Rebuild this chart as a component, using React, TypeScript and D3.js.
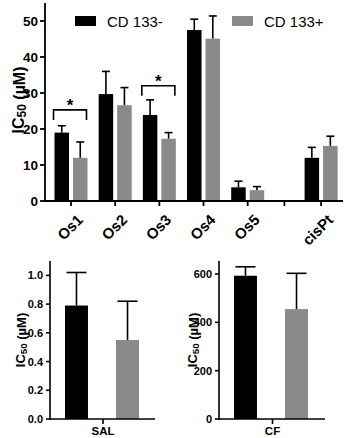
import * as d3 from "d3";
import React from "react";

// top panel
const categories = ["Os1", "Os2", "Os3", "Os4", "Os5", "", "cisPt"];
const negMean = [19, 29.7, 23.9, 47.5, 3.8, null, 12];
const negErr = [1.9, 6.3, 4.2, 3.0, 1.7, null, 2.9];
const posMean = [12, 26.6, 17.3, 45.1, 3.0, null, 15.3];
const posErr = [4.4, 4.9, 1.7, 6.3, 1.0, null, 2.7];
const topTicks = [0, 10, 20, 30, 40, 50];
const seriesNames = ["CD 133-", "CD 133+"];
const sigCategories = ["Os1", "Os3"];
const sigLevels = [25.3, 32];

// bottom panels
const salMean = [0.79, 0.55];
const salErr = [0.23, 0.27];
const salTicks = [0, 0.2, 0.4, 0.6, 0.8, 1.0];
const cfMean = [593, 455];
const cfErr = [37, 148];
const cfTicks = [0, 200, 400, 600];

const BLACK = "#000";
const GRAY = "#8a8a8a";
const FONT = "'Liberation Sans', Arial, sans-serif";

function YLabel({ x, y, size }) {
  return (
    <text
      transform={`translate(${x},${y}) rotate(-90)`}
      textAnchor="middle"
      fontFamily={FONT}
      fontWeight="bold"
      fontSize={size}
      dominantBaseline="central"
    >
      IC
      <tspan fontSize={size * 0.75} dy={size * 0.22}>50</tspan>
      <tspan dy={-size * 0.22}> (µM)</tspan>
    </text>
  );
}

function SmallPanel({ axisX, axisRight, top, bottom, domainMax, ticks, fmt, means, errs, label, labelX }) {
  const y = d3.scaleLinear().domain([0, domainMax]).range([bottom, top]);
  const x = d3.scaleBand().domain(["a", "b"]).range([axisX + 15, axisX + 89]).paddingInner(0.55);
  const tickX = (axisX + axisRight) / 2 + 0.5;
  return (
    <g>
      {means.map((m, i) => {
        const key = i === 0 ? "a" : "b";
        const bx = x(key);
        const w = x.bandwidth();
        const cx = bx + w / 2;
        return (
          <g key={i}>
            <line x1={cx} x2={cx} y1={y(m)} y2={y(m + errs[i])} stroke={BLACK} strokeWidth={1.6} />
            <line x1={cx - 10} x2={cx + 10} y1={y(m + errs[i])} y2={y(m + errs[i])} stroke={BLACK} strokeWidth={1.6} />
            <rect x={bx} y={y(m)} width={w} height={y(0) - y(m)} fill={i === 0 ? BLACK : GRAY} />
          </g>
        );
      })}
      <line x1={axisX} x2={axisX} y1={top} y2={bottom + 1} stroke={BLACK} strokeWidth={1.6} />
      <line x1={axisX} x2={axisRight} y1={bottom} y2={bottom} stroke={BLACK} strokeWidth={1.6} />
      <line x1={tickX} x2={tickX} y1={bottom} y2={bottom + 5} stroke={BLACK} strokeWidth={1.6} />
      {ticks.map((t) => (
        <g key={t}>
          <line x1={axisX - 4} x2={axisX} y1={y(t)} y2={y(t)} stroke={BLACK} strokeWidth={1.6} />
          <text
            x={axisX - 7}
            y={y(t)}
            textAnchor="end"
            dominantBaseline="central"
            fontFamily={FONT}
            fontWeight="bold"
            fontSize={11}
          >
            {fmt(t)}
          </text>
        </g>
      ))}
      <text x={tickX} y={435} textAnchor="middle" fontFamily={FONT} fontWeight="bold" fontSize={11.5}>
        {label}
      </text>
      <YLabel x={labelX} y={340} size={13} />
    </g>
  );
}

export default function App() {
  const width = 345;
  const height = 438;

  const axisX = 45;
  const y = d3.scaleLinear().domain([0, 55]).range([201, 3]);
  const xMain = d3.scaleLinear().domain([0, 4]).range([71, 247.7]);
  const xPos = (i) => (i <= 4 ? xMain(i) : xMain(4) + (i - 4) * 36.7);
  const barW = 14.5;
  const gap = 4;

  return (
    <svg
      width={width}
      height={height}
      style={{ position: "absolute", left: 0, top: 0, background: "#fff" }}
    >
      {/* bars */}
      {categories.map((c, i) => {
        if (negMean[i] == null) return null;
        const cx = xPos(i);
        const bars = [
          { x: cx - gap / 2 - barW, m: negMean[i], e: negErr[i], fill: BLACK },
          { x: cx + gap / 2, m: posMean[i], e: posErr[i], fill: GRAY },
        ];
        return (
          <g key={c}>
            {bars.map((b, j) => {
              const mx = b.x + barW / 2;
              return (
                <g key={j}>
                  <line x1={mx} x2={mx} y1={y(b.m)} y2={y(b.m + b.e)} stroke={BLACK} strokeWidth={1.6} />
                  <line x1={mx - 4} x2={mx + 4} y1={y(b.m + b.e)} y2={y(b.m + b.e)} stroke={BLACK} strokeWidth={1.6} />
                  <rect x={b.x} y={y(b.m)} width={barW} height={y(0) - y(b.m)} fill={b.fill} />
                </g>
              );
            })}
          </g>
        );
      })}

      {/* significance brackets */}
      {sigCategories.map((c, k) => {
        const i = categories.indexOf(c);
        const cx = xPos(i) - 1;
        const x0 = cx - gap / 2 - barW;
        const x1 = cx + gap / 2 + barW;
        const yy = y(sigLevels[k]);
        return (
          <g key={c}>
            <path
              d={`M${x0},${yy + 10}V${yy}H${x1}V${yy + 10}`}
              fill="none"
              stroke={BLACK}
              strokeWidth={1.6}
            />
            <text x={cx} y={yy + 1} textAnchor="middle" fontFamily={FONT} fontWeight="bold" fontSize={17}>
              *
            </text>
          </g>
        );
      })}

      {/* axes */}
      <line x1={axisX} x2={axisX} y1={y(55)} y2={y(0) + 1} stroke={BLACK} strokeWidth={1.8} />
      <line x1={axisX} x2={343} y1={y(0)} y2={y(0)} stroke={BLACK} strokeWidth={1.8} />
      {topTicks.map((t) => (
        <g key={t}>
          <line x1={axisX - 5} x2={axisX} y1={y(t)} y2={y(t)} stroke={BLACK} strokeWidth={1.8} />
          <text
            x={axisX - 7}
            y={y(t)}
            textAnchor="end"
            dominantBaseline="central"
            fontFamily={FONT}
            fontWeight="bold"
            fontSize={13.5}
          >
            {t}
          </text>
        </g>
      ))}
      {categories.map((c, i) => (
        <g key={"t" + i}>
          <line x1={xPos(i)} x2={xPos(i)} y1={y(0)} y2={y(0) + 5} stroke={BLACK} strokeWidth={1.8} />
          <text
            transform={`translate(${xPos(i) + 5},${y(0) + 12}) rotate(-45)`}
            textAnchor="end"
            dominantBaseline="hanging"
            fontFamily={FONT}
            fontWeight="bold"
            fontSize={15}
          >
            {c}
          </text>
        </g>
      ))}
      <YLabel x={18.5} y={100} size={16} />

      {/* legend */}
      {seriesNames.map((s, i) => (
        <g key={s} transform={`translate(${i === 0 ? 75 : 232},16)`}>
          <rect x={0} y={0} width={21} height={10} fill={i === 0 ? BLACK : GRAY} />
          <text x={32} y={11} fontFamily={FONT} fontSize={15}>
            {s}
          </text>
        </g>
      ))}

      <SmallPanel
        axisX={50}
        axisRight={155}
        top={261}
        bottom={419}
        domainMax={1.1}
        ticks={salTicks}
        fmt={(t) => t.toFixed(1)}
        means={salMean}
        errs={salErr}
        label="SAL"
        labelX={20.5}
      />
      <SmallPanel
        axisX={219}
        axisRight={325}
        top={261}
        bottom={419}
        domainMax={654}
        ticks={cfTicks}
        fmt={(t) => String(t)}
        means={cfMean}
        errs={cfErr}
        label="CF"
        labelX={192.5}
      />
    </svg>
  );
}
